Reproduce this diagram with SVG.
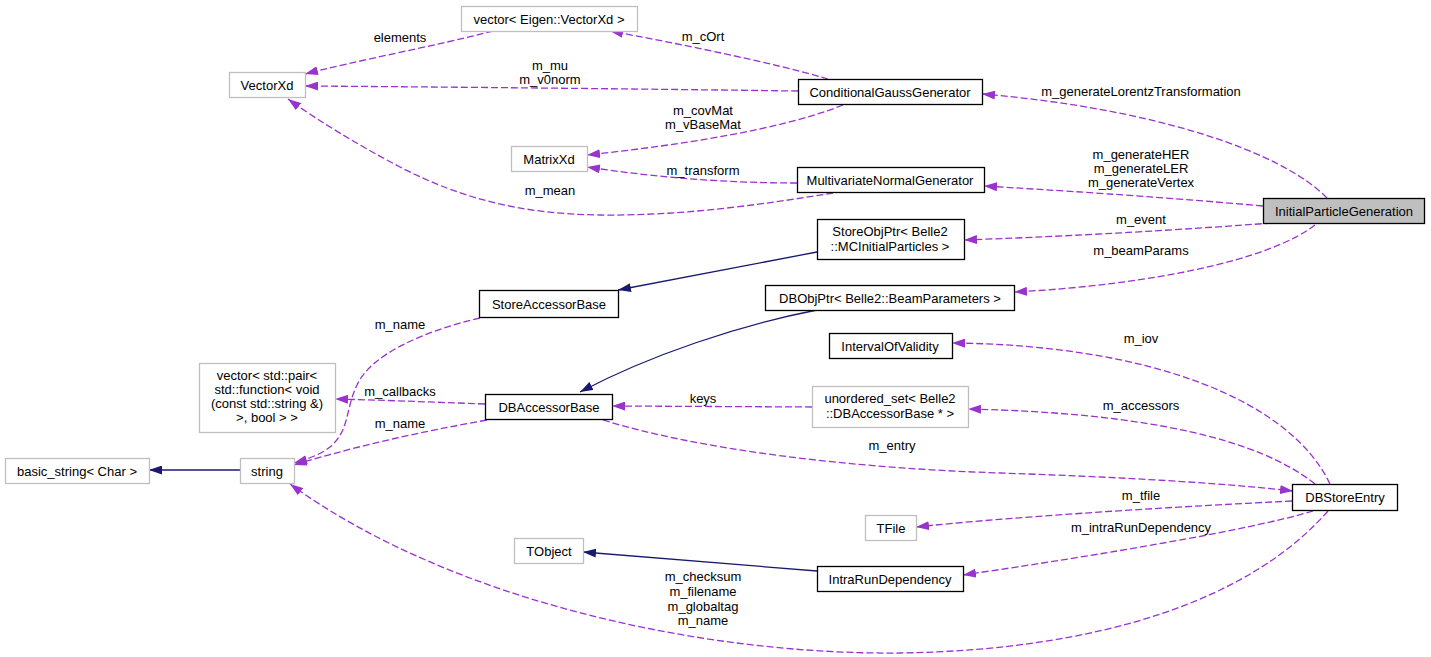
<svg xmlns="http://www.w3.org/2000/svg" width="1431" height="657" viewBox="0 0 1431 657">
<style>
text{font-family:"Liberation Sans",Arial,sans-serif;font-size:13px;fill:#000;text-anchor:middle}
.n rect{fill:#fff;stroke:#000;stroke-width:1.3}
.g rect{fill:#fff;stroke:#bfbfbf;stroke-width:1.3}
.d{fill:none;stroke:#9a32cd;stroke-width:1.3;stroke-dasharray:7,3;marker-end:url(#ap)}
.s{fill:none;stroke:#191970;stroke-width:1.3;marker-end:url(#ab)}
</style>
<defs>
<marker id="ap" viewBox="0 0 13 9" refX="13" refY="4.5" markerWidth="13" markerHeight="9" markerUnits="userSpaceOnUse" orient="auto"><path d="M0,0L13,4.5L0,9z" fill="#9a32cd"/></marker>
<marker id="ab" viewBox="0 0 13 9" refX="13" refY="4.5" markerWidth="13" markerHeight="9" markerUnits="userSpaceOnUse" orient="auto"><path d="M0,0L13,4.5L0,9z" fill="#191970"/></marker>
</defs>
<rect width="1431" height="657" fill="#fff"/>
<g id="connectors">
<path class="d" d="M493,31 C440,45 350,62 305,74"/>
<path class="d" d="M828,79 C770,62 680,44 610,31"/>
<path class="d" d="M798,91 C650,89 450,87 305,86"/>
<path class="d" d="M843,105 C780,130 680,145 587,155"/>
<path class="d" d="M797,183 C730,183 660,178 587,167"/>
<path class="d" d="M833,193 C760,205 680,216 600,215 C520,214 460,198 400,167 C360,146 320,122 288,99"/>
<path class="d" d="M1327,198 C1280,150 1150,108 982,94"/>
<path class="d" d="M1263,206 C1150,196 1050,190 984,186"/>
<path class="d" d="M1272,223 C1150,232 1050,237 964,240"/>
<path class="d" d="M1315,225 C1270,260 1150,285 1014,292"/>
<path class="s" d="M817,252 L618,290"/>
<path class="s" d="M817,310 C740,325 650,355 580,392"/>
<path class="d" d="M480,318 C420,332 370,356 357,385 C345,410 350,430 330,447 C320,455 305,460 294,463"/>
<path class="d" d="M485,404 C430,402 380,400 335,399"/>
<path class="d" d="M487,420 C420,432 360,445 294,465"/>
<path class="d" d="M812,407 L612,406"/>
<path class="d" d="M603,420 C700,450 850,468 1000,473 C1150,478 1240,485 1293,491"/>
<path class="d" d="M1330,484 C1290,400 1150,345 952,343"/>
<path class="d" d="M1315,484 C1260,440 1150,413 968,409"/>
<path class="d" d="M1292,501 C1150,508 1000,518 916,527"/>
<path class="d" d="M1313,511 C1250,530 1100,555 963,575"/>
<path class="d" d="M1328,511 C1250,600 1100,650 900,653 C700,655 450,600 290,484"/>
<path class="s" d="M817,571 L583,552"/>
<path class="s" d="M240,470 L149,470"/>
<text x="400" y="42">elements</text>
<text x="703" y="41">m_cOrt</text>
<text x="550" y="70">m_mu</text>
<text x="550" y="84">m_v0norm</text>
<text x="703" y="115">m_covMat</text>
<text x="703" y="129">m_vBaseMat</text>
<text x="703" y="175">m_transform</text>
<text x="550" y="195">m_mean</text>
<text x="1141" y="96">m_generateLorentzTransformation</text>
<text x="1141" y="159">m_generateHER</text>
<text x="1141" y="173">m_generateLER</text>
<text x="1141" y="187">m_generateVertex</text>
<text x="1141" y="224">m_event</text>
<text x="1141" y="255">m_beamParams</text>
<text x="400" y="329">m_name</text>
<text x="400" y="396">m_callbacks</text>
<text x="400" y="428">m_name</text>
<text x="703" y="403">keys</text>
<text x="892" y="450">m_entry</text>
<text x="1141" y="343">m_iov</text>
<text x="1141" y="410">m_accessors</text>
<text x="1141" y="500">m_tfile</text>
<text x="1141" y="532">m_intraRunDependency</text>
<text x="703" y="581">m_checksum</text>
<text x="703" y="596">m_filename</text>
<text x="703" y="611">m_globaltag</text>
<text x="703" y="625">m_name</text>
</g>
<g id="vectorEigen" class="g"><rect x="461.5" y="6.5" width="176" height="25"/><text x="549" y="23.5">vector&lt; Eigen::VectorXd &gt;</text></g>
<g id="VectorXd" class="g"><rect x="229.5" y="72.5" width="76" height="25"/><text x="267" y="89.5">VectorXd</text></g>
<g id="ConditionalGaussGenerator" class="n"><rect x="798.5" y="79.5" width="184" height="25"/><text x="890" y="96.5">ConditionalGaussGenerator</text></g>
<g id="MatrixXd" class="g"><rect x="511.5" y="146.5" width="76" height="25"/><text x="549" y="163.5">MatrixXd</text></g>
<g id="MultivariateNormalGenerator" class="n"><rect x="797.5" y="167.5" width="187" height="25"/><text x="890" y="184.5">MultivariateNormalGenerator</text></g>
<g id="InitialParticleGeneration"><rect x="1263.5" y="198.5" width="161" height="25" fill="#bfbfbf" stroke="#000" stroke-width="1.3"/><text x="1344" y="215.5">InitialParticleGeneration</text></g>
<g id="StoreObjPtr" class="n"><rect x="817.5" y="219.5" width="147" height="40"/><text x="890" y="235.5">StoreObjPtr&lt; Belle2</text><text x="890" y="250.5">::MCInitialParticles &gt;</text></g>
<g id="StoreAccessorBase" class="n"><rect x="479.5" y="290.5" width="139" height="27"/><text x="549" y="308.5">StoreAccessorBase</text></g>
<g id="DBObjPtr" class="n"><rect x="765.5" y="285.5" width="249" height="25"/><text x="890" y="302.5">DBObjPtr&lt; Belle2::BeamParameters &gt;</text></g>
<g id="IntervalOfValidity" class="n"><rect x="829.5" y="333.5" width="123" height="25"/><text x="890" y="350.5">IntervalOfValidity</text></g>
<g id="vectorPair" class="g"><rect x="199.5" y="363.5" width="136" height="69"/><text x="267" y="380">vector&lt; std::pair&lt;</text><text x="267" y="394">std::function&lt; void</text><text x="267" y="408">(const std::string &amp;)</text><text x="267" y="422">&gt;, bool &gt; &gt;</text></g>
<g id="DBAccessorBase" class="n"><rect x="485.5" y="394.5" width="127" height="25"/><text x="549" y="411.5">DBAccessorBase</text></g>
<g id="unorderedSet" class="g"><rect x="812.5" y="386.5" width="156" height="41"/><text x="890" y="402.5">unordered_set&lt; Belle2</text><text x="890" y="417.5">::DBAccessorBase * &gt;</text></g>
<g id="basicString" class="g"><rect x="5.5" y="458.5" width="144" height="25"/><text x="77" y="475.5">basic_string&lt; Char &gt;</text></g>
<g id="string" class="g"><rect x="240.5" y="458.5" width="54" height="25"/><text x="267" y="475.5">string</text></g>
<g id="DBStoreEntry" class="n"><rect x="1292.5" y="484.5" width="105" height="26"/><text x="1345" y="502">DBStoreEntry</text></g>
<g id="TFile" class="g"><rect x="865.5" y="515.5" width="51" height="25"/><text x="891" y="532.5">TFile</text></g>
<g id="TObject" class="g"><rect x="514.5" y="538.5" width="69" height="25"/><text x="549" y="555.5">TObject</text></g>
<g id="IntraRunDependency" class="n"><rect x="817.5" y="566.5" width="146" height="25"/><text x="890" y="583.5">IntraRunDependency</text></g>
</svg>
